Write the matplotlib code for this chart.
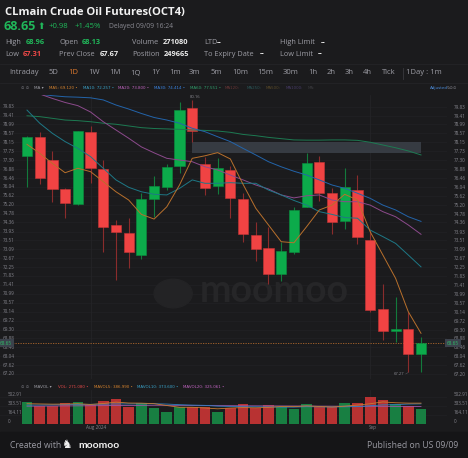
import numpy as np
import matplotlib.pyplot as plt
from matplotlib.patches import Rectangle, Ellipse
from matplotlib.transforms import blended_transform_factory

W, H = 468, 458
BG = '#1b1b1d'
UP = '#0cab4b'
DOWN = '#f04343'

# daily OHLC, 25 Jul 2024 .. 09 Sep 2024
opens = [77.51, 78.38, 77.31, 75.94, 75.23, 78.62, 76.89, 74.23, 73.87, 72.84,
         75.48, 76.03, 77.01, 79.75, 77.11, 76.08, 76.82, 75.47, 73.75, 73.14,
         71.92, 72.96, 75.10, 77.22, 75.74, 74.43, 75.89, 73.54, 70.28, 69.24,
         69.32, 68.13]
highs = [78.46, 78.65, 77.74, 75.98, 78.70, 78.92, 77.31, 74.47, 74.59, 75.74,
         76.55, 77.11, 80.05, 80.16, 77.47, 77.39, 77.03, 75.75, 74.38, 74.16,
         73.45, 75.07, 77.63, 77.50, 75.97, 76.95, 76.60, 73.99, 71.44, 70.82,
         70.11, 68.96]
lows = [76.05, 76.18, 75.34, 74.59, 75.20, 76.24, 72.98, 71.65, 72.21, 72.63,
        74.63, 75.89, 76.71, 78.15, 75.66, 75.70, 74.56, 73.45, 72.54, 71.45,
        71.59, 72.85, 75.08, 75.39, 73.81, 74.06, 73.36, 70.11, 68.82, 68.72,
        67.27, 67.31]
closes = [78.38, 76.46, 75.95, 75.29, 78.68, 76.95, 74.13, 73.91, 72.96, 75.47,
          76.10, 76.99, 79.69, 78.70, 76.00, 76.93, 75.50, 73.83, 73.09, 71.92,
          73.01, 74.96, 77.18, 75.77, 74.38, 76.03, 73.66, 70.22, 69.24, 69.31,
          68.16, 68.65]

ma5 = [78.05, 77.63, 77.15, 76.71, 76.92, 76.76, 76.29, 75.81, 75.42, 74.74,
       74.52, 75.10, 76.13, 77.39, 77.51, 77.66, 77.36, 76.16, 75.03, 74.24,
       73.45, 73.40, 74.16, 74.95, 75.18, 75.69, 75.42, 73.92, 72.82, 71.72,
       70.14, 69.12]
ma10 = [79.67, 79.05, 78.57, 78.18, 77.86, 77.47, 76.92, 76.37, 76.02, 75.81,
        75.69, 75.66, 75.97, 76.37, 76.21, 76.21, 76.24, 76.21, 76.21, 75.89,
        75.66, 75.40, 75.18, 74.87, 74.74, 74.59, 74.56, 74.00, 73.69, 73.37,
        72.82, 72.26]
ma20 = [80.65, 80.43, 80.22, 80.03, 79.88, 79.58, 79.12, 78.73, 78.34, 77.93,
        77.65, 77.39, 77.31, 77.23, 76.99, 76.84, 76.60, 76.37, 76.13, 75.94,
        75.66, 75.52, 75.62, 75.66, 75.42, 75.34, 75.34, 75.18, 74.87, 74.63,
        74.24, 73.80]
ma30 = [80.50, 80.42, 80.35, 80.30, 80.28, 80.25, 80.15, 79.91, 79.72, 79.51,
        79.32, 79.20, 79.05, 78.81, 78.65, 78.41, 78.18, 77.86, 77.55, 77.23,
        76.99, 76.78, 76.60, 76.37, 76.13, 75.97, 75.74, 75.50, 75.18, 74.95,
        74.63, 74.41]
ma60 = [79.40, 79.36, 79.28, 79.20, 79.17, 79.12, 79.05, 79.00, 78.92, 78.84,
        78.80, 78.78, 78.76, 78.73, 78.71, 78.68, 78.62, 78.52, 78.46, 78.38,
        78.32, 78.26, 78.25, 78.25, 78.26, 78.26, 78.24, 78.15, 78.02, 77.89,
        77.74, 77.55]

# volume in thousands
vol = [414, 333, 333, 384, 414, 346, 422, 465, 320, 384, 295, 226, 320, 320,
       320, 215, 295, 365, 301, 352, 309, 277, 371, 309, 309, 384, 384, 497,
       455, 375, 337, 271.08]
mavol5 = [376, 372, 368, 370, 376, 362, 380, 406, 389, 387, 377, 342, 309, 309,
          296, 280, 295, 303, 299, 306, 324, 321, 335, 324, 314, 330, 351, 375,
          410, 394, 387, 387]
mavol10 = [350, 352, 355, 358, 362, 365, 368, 372, 372, 374, 376, 370, 358, 350,
           345, 330, 325, 320, 318, 316, 312, 312, 320, 318, 315, 318, 322, 338,
           354, 358, 370, 374]
mavol20 = [330, 331, 333, 335, 336, 338, 340, 342, 343, 345, 347, 346, 345, 344,
           342, 340, 339, 337, 336, 335, 334, 333, 332, 331, 330, 329, 328, 328,
           327, 326, 326, 325]

price_ticks = [79.83, 79.41, 78.99, 78.57, 78.15, 77.73, 77.30, 76.88, 76.46,
               76.04, 75.62, 75.20, 74.78, 74.36, 73.93, 73.51, 73.09, 72.67,
               72.25, 71.83, 71.41, 70.99, 70.57, 70.14, 69.72, 69.30, 68.88,
               68.46, 68.04, 67.62, 67.20]
vol_ticks = [0, 164.11, 333.51, 502.91]
vol_tick_labels = ['0', '164.11', '333.51', '502.91']
last_price = 68.65
gap_box = (13, 31, 77.63, 78.15)

FONT = ['Open Sans', 'DejaVu Sans']
plt.rcParams['font.family'] = FONT


def fx(x):
    return x / W


def fy(y):
    return 1 - y / H


def px_axes(fig, x0, y0, x1, y1):
    return fig.add_axes([fx(x0), fy(y1), (x1 - x0) / W, (y1 - y0) / H])


fig = plt.figure(figsize=(W / 100, H / 100), dpi=100, facecolor=BG)
fig.patches.append(Rectangle((0, 0), 1, fy(432), transform=fig.transFigure,
                             color='#151517', zorder=-1))

n = len(opens)
idx = np.arange(n)
x0_px, step = 27.0, 12.71
xlim = (-x0_px / step, (447 - x0_px) / step)

# ---- header ----
def t(x, y, s, **kw):
    kw.setdefault('va', 'center')
    kw.setdefault('color', '#9c9ca4')
    kw.setdefault('fontsize', 5.4)
    fig.text(fx(x), fy(y), s, **kw)

t(5, 12, 'CLmain Crude Oil Futures(OCT4)', color='#f2f2f2', fontsize=8.1,
  weight='bold')
t(4, 26.5, '68.65', color='#20b85a', fontsize=9, weight='bold')
t(37, 26.5, '\u2b06', color='#20b85a', fontsize=6.5, family=['DejaVu Sans'])
t(49, 26, '+0.98', color='#20b85a', fontsize=5.6)
t(75, 26, '+1.45%', color='#20b85a', fontsize=5.6)
t(109, 26, 'Delayed 09/09 16:24', fontsize=4.9, color='#8a8a92')

rows = [
    [(5, 'High', 26, '68.96', '#20b85a'), (59, 'Open', 82, '68.13', '#20b85a'),
     (132, 'Volume', 163, '271080', '#ececec'), (204, 'LTD', 217, '--', '#ececec'),
     (280, 'High Limit', 321, '--', '#ececec')],
    [(5, 'Low', 23, '67.31', '#f04848'), (59, 'Prev Close', 100, '67.67', '#ececec'),
     (132, 'Position', 164, '249665', '#ececec'),
     (204, 'To Expiry Date', 260, '--', '#ececec'),
     (280, 'Low Limit', 318, '--', '#ececec')],
]
for ry, row in zip([43, 54], rows):
    for lx, lab, vx, val, col in row:
        t(lx, ry, lab, fontsize=5.3)
        t(vx, ry, val, color=col, fontsize=5.3, weight='bold')

tabs = [(9, 'Intraday'), (49, '5D'), (68, '1D'), (88, '1W'), (109, '1M'),
        (130, '1Q'), (151, '1Y'), (169, '1m'), (189, '3m'), (211, '5m'),
        (232, '10m'), (257, '15m'), (283, '30m'), (308, '1h'), (327, '2h'),
        (345, '3h'), (363, '4h'), (382, 'Tick'), (406, '1Day : 1m')]
for tx, lab in tabs:
    t(tx, 73, lab, fontsize=5.5, color='#e07a2e' if lab == '1D' else '#9c9ca4')
fig.add_artist(plt.Line2D([fx(403), fx(403)], [fy(68), fy(79)],
                          color='#3a3a3e', lw=0.6))
fig.add_artist(plt.Line2D([0, 1], [fy(63.5), fy(63.5)], color='#242427', lw=0.6))
fig.add_artist(plt.Line2D([0, 1], [fy(82.5), fy(82.5)], color='#242427', lw=0.6))

# MA legend row
t(21, 88, '\u2299 \u2299', fontsize=3.0, color='#77777f', family=['DejaVu Sans'])
t(34, 88, 'MA \u25be', fontsize=3.0, color='#9c9ca4', family=['DejaVu Sans'])
legend_items = [(49, 'MA5: 69.120 \u2022', '#d4822e'),
                (83, 'MA10: 72.257 \u2022', '#3aa2c8'),
                (118, 'MA20: 73.800 \u2022', '#c064c0'),
                (154, 'MA30: 74.414 \u2022', '#3a84e2'),
                (190, 'MA60: 77.551 \u2022', '#2fa06c'),
                (225, 'MA120:', '#6a3636'), (247, 'MA250:', '#2a5658'),
                (266, 'MA500:', '#5a4a28'), (286, 'MA1000:', '#463a66'),
                (308, 'MA:', '#3a3a3e')]
for lx, lab, col in legend_items:
    t(lx, 88, lab, fontsize=2.9, color=col, family=['DejaVu Sans'])
t(430, 88, 'Adjusted', fontsize=3.0, color='#4a8ad8', family=['DejaVu Sans'])
t(447, 88, '\u21bb\u2299\u2299', fontsize=3.0, color='#77777f',
  family=['DejaVu Sans'])

# ---- price panel ----
ax = px_axes(fig, 0, 95, 447, 379)
ax.set_facecolor(BG)
ax.set_xlim(*xlim)
p_top = 79.83 + (106.7 - 95) / 21.16
p_bot = 79.83 - (379 - 106.7) / 21.16
ax.set_ylim(p_bot, p_top)
for s in ax.spines.values():
    s.set_visible(False)
ax.set_xticks([])
for pt in price_ticks:
    ax.axhline(pt, color='#222225', lw=0.5, zorder=0)
for mi in (5, 27):
    ax.axvline(mi, color='#242427', lw=0.6, zorder=0)

ax.yaxis.tick_right()
ax.set_yticks(price_ticks)
ax.set_yticklabels(['%.2f' % v for v in price_ticks])
ax.tick_params(axis='y', length=0, pad=5, labelsize=3.3, labelcolor='#85858d')
trans = blended_transform_factory(ax.transAxes, ax.transData)
for pt in price_ticks:
    ax.text(0.007, pt, '%.2f' % pt, transform=trans, fontsize=3.3,
            color='#85858d', va='center', ha='left')

ax.add_patch(Rectangle((gap_box[0], gap_box[2]), gap_box[1] - gap_box[0],
                       gap_box[3] - gap_box[2], color='#3a3f47', alpha=0.9,
                       lw=0, zorder=1))

o = np.array(opens)
c = np.array(closes)
up = c >= o
cols = np.where(up, UP, DOWN)
wick_cols = np.where(up, '#137a3c', '#8a2c2c')
ax.vlines(idx, lows, highs, colors=wick_cols, lw=0.8, zorder=3)
ax.bar(idx, np.maximum(np.abs(c - o), 0.06), bottom=np.minimum(o, c), width=0.8,
       color=cols, edgecolor=np.where(up, '#0a9040', '#c83636'), lw=0.4, zorder=4)

for vals, col in [(ma60, '#1d7a52'), (ma30, '#2364aa'), (ma20, '#8c4a8c'),
                  (ma10, '#1e7886'), (ma5, '#b8702c')]:
    ax.plot(idx, vals, color=col, lw=0.7, zorder=5)

ax.axhline(last_price, color='#b0682c', lw=0.6, ls=(0, (1.5, 1.5)), zorder=2)
for xa in (0.0, 1.0):
    ax.text(xa, last_price, '68.65', transform=trans, fontsize=3.3,
            color='#2fc06a', va='center', ha='left',
            bbox=dict(boxstyle='square,pad=0.35', fc='#3c424c', ec='none'),
            clip_on=False, zorder=7)

ax.text(13.2, 80.16 + 0.05, '80.16', fontsize=3.0, color='#8a8a92',
        ha='center', va='bottom', clip_on=False, zorder=6)
ax.plot([29.8, 30], [67.20, 67.27], color='#55555a', lw=0.4)
ax.text(29.7, 67.20, '67.27', fontsize=3.0, color='#8a8a92', ha='right',
        va='center', zorder=6)

# watermark
ax.text(13.6, 71.1, 'moomoo', fontsize=27, color='#262628', weight='bold',
        family=['Lato', 'DejaVu Sans'], ha='left', va='center', zorder=0.5)
ax.add_patch(Ellipse((11.5, 71.0), 3.0, 1.35, color='#232325', zorder=0.5))

# ---- volume panel ----
t(21, 387, '\u2299 \u2299', fontsize=3.0, color='#77777f', family=['DejaVu Sans'])
t(34, 387, 'MAVOL \u25be', fontsize=3.0, color='#9c9ca4', family=['DejaVu Sans'])
for lx, lab, col in [(58, 'VOL: 271.080 \u2022', '#e04848'),
                     (94, 'MAVOL5: 386.990 \u2022', '#d4822e'),
                     (137, 'MAVOL10: 373.600 \u2022', '#3aa2c8'),
                     (183, 'MAVOL20: 325.061 \u2022', '#c064c0')]:
    t(lx, 387, lab, fontsize=2.9, color=col, family=['DejaVu Sans'])

axv = px_axes(fig, 0, 390, 447, 424)
axv.set_facecolor(BG)
axv.set_xlim(*xlim)
axv.set_ylim((423.7 - 424) * 18.82, (423.7 - 390) * 18.82)
for s in axv.spines.values():
    s.set_visible(False)
axv.set_xticks([])
axv.yaxis.tick_right()
axv.set_yticks(vol_ticks)
axv.set_yticklabels(vol_tick_labels)
axv.tick_params(axis='y', length=0, pad=5, labelsize=3.3, labelcolor='#85858d')
for lab in axv.get_yticklabels():
    lab.set_va('bottom')
vtrans = blended_transform_factory(axv.transAxes, axv.transData)
for vt, vl in zip(vol_ticks, vol_tick_labels):
    axv.text(0.017, vt, vl, transform=vtrans, fontsize=3.3, color='#85858d',
             va='bottom', ha='left')
    axv.axhline(vt, color='#222225', lw=0.5, zorder=0)
for mi in (5, 27):
    axv.axvline(mi, color='#242427', lw=0.6, zorder=0)
axv.bar(idx, vol, width=0.84, color=np.where(up, '#187f42', '#b83232'), zorder=2)
for vals, col in [(mavol20, '#9c58a8'), (mavol10, '#2f7fc0'), (mavol5, '#c87a30')]:
    axv.plot(idx, vals, color=col, lw=0.6, zorder=3)

t(96, 428, 'Aug 2024', fontsize=3.3, color='#85858d', ha='center')
t(373, 428, 'Sep', fontsize=3.3, color='#85858d', ha='center')

# ---- footer ----
t(10, 445, 'Created with', fontsize=6.2, color='#9a9aa2')
t(61, 445, '\u265e', fontsize=8.5, color='#f0f0f0', family=['DejaVu Sans'])
t(78, 445, 'moomoo', fontsize=7.5, color='#f0f0f0', weight='bold',
  family=['Lato', 'DejaVu Sans'])
t(458, 445, 'Published on US 09/09', fontsize=6.2, color='#9a9aa2', ha='right')

fig.savefig('out.png', dpi=100, facecolor=BG)
